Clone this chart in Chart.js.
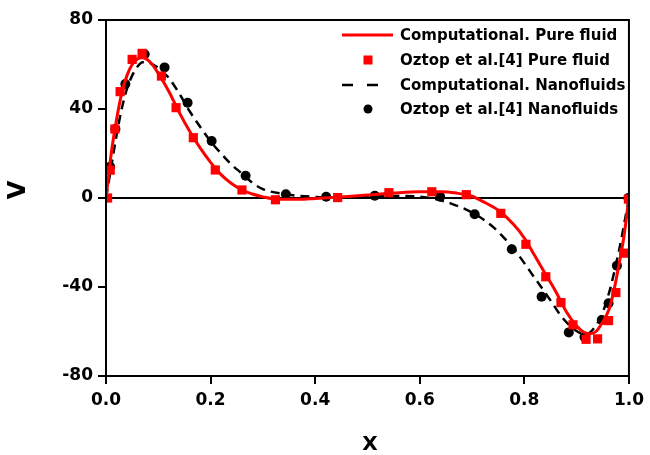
<!DOCTYPE html>
<html>
<head>
<meta charset="utf-8">
<script src="https://cdn.jsdelivr.net/npm/chart.js@4.4.0/dist/chart.umd.min.js"></script>
<style>
  html, body { margin: 0; padding: 0; background: #fff; }
</style>
</head>
<body>
<canvas id="myChart" width="650" height="455"></canvas>
<script>
// ---- data ----
const xTicks = [0, 0.2, 0.4, 0.6, 0.8, 1.0];
const yTicks = [-80, -40, 0, 40, 80];

const pureCompX = [0, 0.005, 0.01, 0.02, 0.03, 0.04, 0.05, 0.06, 0.07, 0.08, 0.09, 0.1, 0.12, 0.14, 0.16, 0.18, 0.2, 0.22, 0.24, 0.26, 0.28, 0.3, 0.33, 0.37, 0.4, 0.45, 0.5, 0.55, 0.6, 0.64, 0.67, 0.7, 0.72, 0.75, 0.78, 0.8, 0.82, 0.84, 0.86, 0.88, 0.9, 0.915, 0.925, 0.937, 0.95, 0.962, 0.97, 0.98, 0.99, 1];
const pureCompY = [0, 10, 20, 35, 47, 55, 60, 62.5, 63, 62, 59.5, 56, 48, 38.5, 30, 22.5, 16, 10.5, 6.5, 3.6, 1.8, 0.5, -0.6, -0.6, -0.2, 0.5, 1.3, 2.2, 2.8, 2.8, 2.2, 0.8, -1.5, -5.5, -12, -18, -26, -34, -42, -51, -57.5, -60.5, -61, -60, -55.6, -50, -43, -31, -18, 0];

const pureExpX = [0.003, 0.008, 0.017, 0.027, 0.05, 0.069, 0.106, 0.134, 0.167, 0.209, 0.26, 0.324, 0.443, 0.541, 0.623, 0.689, 0.755, 0.803, 0.841, 0.87, 0.893, 0.918, 0.94, 0.961, 0.975, 0.99, 0.999];
const pureExpY = [0, 12.5, 31, 47.8, 62.3, 65, 54.8, 40.6, 27.1, 12.6, 3.6, -0.8, 0.2, 2.4, 2.8, 1.5, -6.9, -20.8, -35.4, -47, -57, -63.5, -63.3, -55.1, -42.5, -24.8, -0.5];

const nanoCompX = [0, 0.005, 0.01, 0.02, 0.03, 0.04, 0.05, 0.06, 0.07, 0.08, 0.09, 0.1, 0.12, 0.14, 0.16, 0.18, 0.2, 0.22, 0.24, 0.26, 0.28, 0.3, 0.34, 0.4, 0.45, 0.5, 0.55, 0.6, 0.63, 0.66, 0.7, 0.74, 0.78, 0.82, 0.85, 0.87, 0.89, 0.905, 0.92, 0.935, 0.945, 0.955, 0.965, 0.975, 0.985, 0.993, 1];
const nanoCompY = [0, 7, 14, 28, 40, 49, 55, 59, 61, 61, 60, 58.5, 54, 47, 39, 32, 25.5, 20, 15, 11, 6.8, 4, 1.8, 0.5, 0.3, 0.6, 0.9, 0.6, -0.5, -2.5, -6.5, -13, -23, -36, -46, -53, -58, -60.5, -61, -58, -54, -48, -40, -30, -19, -9, 0];

const nanoExpX = [0.008, 0.018, 0.037, 0.074, 0.112, 0.156, 0.202, 0.267, 0.344, 0.421, 0.514, 0.639, 0.705, 0.776, 0.833, 0.885, 0.915, 0.948, 0.961, 0.977, 0.999];
const nanoExpY = [14, 31, 51.2, 64.6, 58.7, 42.8, 25.6, 10, 1.7, 0.6, 1, 0.6, -7.3, -23, -44.4, -60.4, -62.5, -54.8, -47.3, -30.4, 0];

const seriesLabels = ["Computational. Pure fluid", "Oztop et al.[4] Pure fluid", "Computational. Nanofluids", "Oztop et al.[4] Nanofluids"];

const FONT = "DejaVu Sans";

function toPoints(xs, ys) {
  return xs.map((x, i) => ({ x: x, y: ys[i] }));
}

// frame, legend and axis titles
const decorPlugin = {
  id: "decor",
  afterDraw(chart) {
    const ctx = chart.ctx;
    const a = chart.chartArea;
    ctx.save();
    ctx.strokeStyle = "#000";
    ctx.lineWidth = 2;
    ctx.strokeRect(a.left, a.top, a.right - a.left, a.bottom - a.top);

    // legend
    const rows = [35, 60, 85, 109];
    const sx = 342, ex = 393, mid = 368, tx = 400;
    ctx.font = "bold 15px " + FONT;
    ctx.textBaseline = "middle";
    ctx.textAlign = "left";
    ctx.strokeStyle = "#ff0000";
    ctx.lineWidth = 3;
    ctx.beginPath(); ctx.moveTo(sx, rows[0]); ctx.lineTo(ex, rows[0]); ctx.stroke();
    ctx.fillStyle = "#ff0000";
    ctx.fillRect(mid - 4.5, rows[1] - 4.5, 9, 9);
    ctx.strokeStyle = "#000";
    ctx.lineWidth = 2.5;
    ctx.beginPath();
    ctx.moveTo(sx, rows[2]); ctx.lineTo(sx + 11, rows[2]);
    ctx.moveTo(sx + 25, rows[2]); ctx.lineTo(sx + 36, rows[2]);
    ctx.stroke();
    ctx.fillStyle = "#000";
    ctx.beginPath(); ctx.arc(mid, rows[3], 4.5, 0, Math.PI * 2); ctx.fill();
    seriesLabels.forEach((t, i) => ctx.fillText(t, tx, rows[i] + 1));

    // axis titles
    ctx.font = "bold 20px " + FONT;
    ctx.textAlign = "center";
    ctx.fillText("X", 370, 445);
    ctx.translate(19, 190);
    ctx.rotate(-Math.PI / 2);
    ctx.font = "bold 24px " + FONT;
    ctx.fillText("V", 0, 0);
    ctx.restore();
  },
};

const ctx = document.getElementById("myChart");
const myChart = new Chart(ctx, {
  type: "scatter",
  data: {
    datasets: [
      {
        label: seriesLabels[0],
        type: "line",
        data: toPoints(pureCompX, pureCompY),
        borderColor: "#ff0000",
        borderWidth: 3,
        pointRadius: 0,
        cubicInterpolationMode: "monotone",
        fill: false,
      },
      {
        label: seriesLabels[1],
        data: toPoints(pureExpX, pureExpY),
        pointStyle: "rect",
        pointRadius: 6.5,
        backgroundColor: "#ff0000",
        borderColor: "#ff0000",
        borderWidth: 0,
      },
      {
        label: seriesLabels[2],
        type: "line",
        data: toPoints(nanoCompX, nanoCompY),
        borderColor: "#000",
        borderWidth: 2.5,
        borderDash: [9, 6],
        pointRadius: 0,
        cubicInterpolationMode: "monotone",
        fill: false,
      },
      {
        label: seriesLabels[3],
        data: toPoints(nanoExpX, nanoExpY),
        pointStyle: "circle",
        pointRadius: 5,
        backgroundColor: "#000",
        borderColor: "#000",
        borderWidth: 0,
      },
    ],
  },
  options: {
    responsive: false,
    animation: false,
    devicePixelRatio: 1,
    layout: { padding: { top: 20, right: 17, left: 0, bottom: 0 } },
    plugins: {
      legend: { display: false },
      tooltip: { enabled: false },
    },
    scales: {
      x: {
        type: "linear",
        min: 0,
        max: 1,
        afterFit: (s) => { s.height = 79; },
        afterBuildTicks: (s) => { s.ticks = xTicks.map((v) => ({ value: v })); },
        ticks: {
          color: "#000",
          font: { family: FONT, weight: "bold", size: 17 },
          padding: 6,
          callback: (v) => Number(v).toFixed(1),
        },
        grid: { drawOnChartArea: false, tickColor: "#000", tickLength: 8, lineWidth: 2 },
        border: { color: "#000", width: 2 },
      },
      y: {
        type: "linear",
        min: -80,
        max: 80,
        afterFit: (s) => { s.width = 106; },
        afterBuildTicks: (s) => { s.ticks = yTicks.map((v) => ({ value: v })); },
        ticks: {
          color: "#000",
          font: { family: FONT, weight: "bold", size: 17 },
          padding: 5,
        },
        grid: {
          color: (c) => (c.tick && c.tick.value === 0 ? "#000" : "rgba(0,0,0,0)"),
          tickColor: "#000",
          tickLength: 8,
          lineWidth: 2,
        },
        border: { color: "#000", width: 2 },
      },
    },
  },
  plugins: [decorPlugin],
});
</script>
</body>
</html>
